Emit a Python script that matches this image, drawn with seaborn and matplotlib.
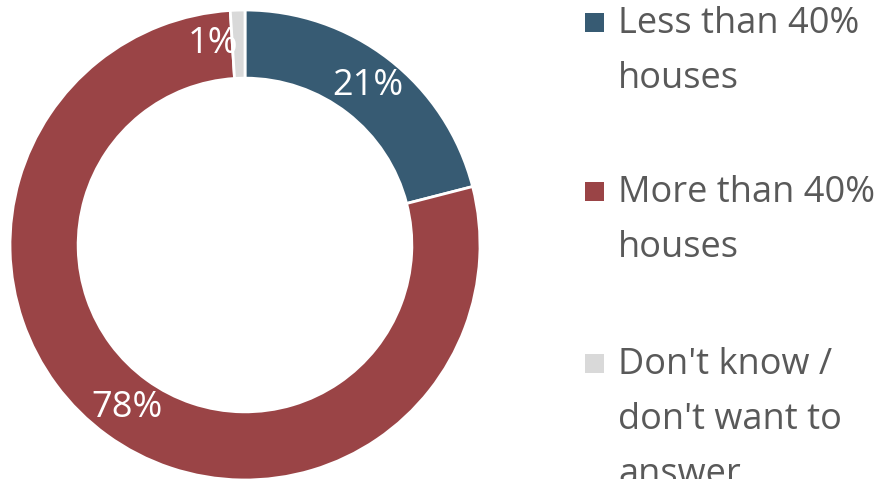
import matplotlib
matplotlib.use('Agg')
import matplotlib.pyplot as plt
from matplotlib.patches import Rectangle
import seaborn as sns
import numpy as np

categories = ['Less than 40%\nhouses', 'More than 40%\nhouses', "Don't know /\ndon't want to\nanswer"]
shares = [21, 78, 1]
pct_labels = ['21%', '78%', '1%']
colors = ['#375B73', '#9A4446', '#D9D9D9']

sns.set_theme(style='white')
plt.rcParams['font.family'] = ['Open Sans', 'DejaVu Sans']

W, H = 888, 479
fig = plt.figure(figsize=(W / 100, H / 100), dpi=100)
ax = fig.add_axes([10 / W, -1 / H, 470 / W, 470 / H])

wedges, texts = ax.pie(
    shares,
    colors=colors,
    startangle=90,
    counterclock=False,
    radius=1,
    wedgeprops=dict(width=0.29, edgecolor='white', linewidth=2),
)
ax.set_xlim(-1, 1)
ax.set_ylim(-1, 1)
ax.set_aspect('equal')

# percentage labels in the middle of the ring
r_mid = 1 - 0.29 / 2
for w, lab in zip(wedges, pct_labels):
    ang = np.deg2rad((w.theta1 + w.theta2) / 2)
    x, y = r_mid * np.cos(ang), r_mid * np.sin(ang)
    ha = 'right' if lab == '1%' else 'center'
    ax.text(x, y, lab, ha=ha, va='center', color='white', fontsize=26)

# legend on the right, drawn by hand so the lines sit like the original
entry_top = [33, 202, 374]   # baseline of first line, px from top
line_step = 55
for cat, col, base in zip(categories, colors, entry_top):
    fig.add_artist(Rectangle((585 / W, 1 - (base - 1) / H), 19 / W, 19 / H,
                             transform=fig.transFigure, color=col, lw=0))
    for i, line in enumerate(cat.split('\n')):
        fig.text(618 / W, 1 - (base + i * line_step) / H, line,
                 ha='left', va='baseline', color='#595959', fontsize=26)

fig.savefig('out.png', dpi=100)
